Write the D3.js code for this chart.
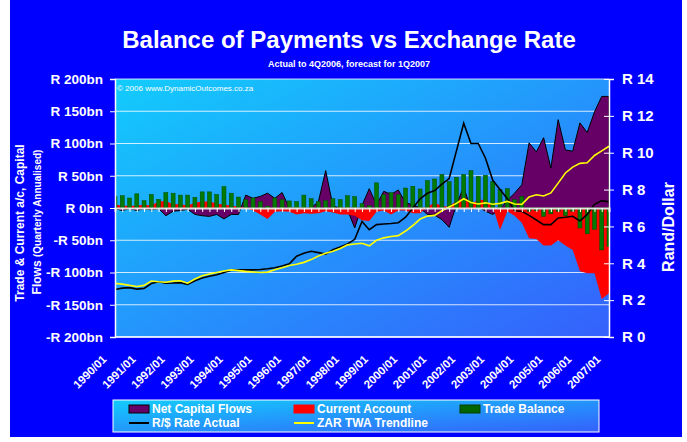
<!DOCTYPE html>
<html>
<head>
<meta charset="utf-8">
<script src="https://cdn.jsdelivr.net/npm/d3@7"></script>
<style>
body { margin: 0; background: #fff; }
text { font-family: Arial, "Liberation Sans", sans-serif; fill: #fff; }
</style>
</head>
<body>
<div id="chart"></div>
<script>
// quarters 1990/01 .. 2007/01
var quarters = [];
for (var yr = 1990; yr <= 2007; yr++) {
    for (var q = 1; q <= 4; q++) {
        if (yr == 2007 && q > 1) break;
        quarters.push(yr + "/0" + q);
    }
}

// R bn, quarterly annualised
var netCapital = [-1,-4,-1,-4,-1,-3,-1,-12,-5,-4, -2,-10,-12,-13,-10,-17,-10,-10,20,15,
    18,23,15,24,0,-3,-3,0,10,58, 3,0,-3,-31,4,30,5,26,21,28,
    8,5,0,-10,-11,-18,-30,5,33,-3, 2,-5,-10,-2,12,23,36,101,87,109,
    62,137,90,88,132,117,149,173,173];
var currentAccount = [5,4,3,4,5,4,10,11,6,6, 4,8,10,10,7,5,4,2,0,-4,
    -10,-17,-6,-5,-6,-10,-8,-9,-8,-5, -7,-10,-10,-12,-19,-20,-6,-4,-10,-4,
    -4,-8,-8,2,8,3,2,12,14,5, 13,12,2,-34,-5,-12,-23,-47,-48,-58,
    -58,-50,-58,-65,-98,-101,-101,-141,-132];
var tradeBalance = [18,19,15.5,22,11.4,21,13.5,24,23,20, 20,16.6,25,25,21,33,23,17,13,15.5,
    10,3,15.5,13,11,10,20,14.5,10,11.4, 14.5,13,19,17.6,6.7,3.6,39,20.7,24,20.7,
    31,33.7,29.5,42.5,45,52,41,47.7,52,58, 49,50.8,41,28.5,30,13,18,-5,-4,-13,
    -9,-5,-12,-5,-31,-40,-33,-65,-60];
// Rand per dollar
var randDollar = [2.58,2.65,2.68,2.6,2.64,2.9,3.0,2.92,2.93,2.95, 2.85,3.05,3.2,3.3,3.38,3.5,3.62,3.64,3.64,3.64,
    3.66,3.7,3.76,3.85,3.97,4.38,4.55,4.65,4.58,4.5, 4.73,4.88,5.05,5.3,6.27,5.82,6.1,6.13,6.16,6.2,
    6.5,7.0,7.5,7.8,7.95,8.3,8.6,10.1,11.6,10.5, 10.5,9.7,8.5,8.0,7.5,6.85,6.82,6.6,6.35,6.1,
    6.1,6.46,6.5,6.55,6.3,6.65,7.2,7.4,7.33];
var zarTwa = [2.91,2.87,2.8,2.74,2.8,3.04,3.0,2.97,3.03,3.05, 2.92,3.15,3.32,3.42,3.5,3.58,3.64,3.6,3.56,3.53,
    3.5,3.52,3.65,3.76,3.88,3.95,4.05,4.2,4.4,4.55, 4.65,4.8,5.0,5.05,5.09,4.95,5.25,5.38,5.45,5.5,
    5.75,6.05,6.4,6.56,6.6,6.85,7.05,7.25,7.5,7.3, 7.22,7.28,7.2,7.25,7.36,7.22,7.2,7.6,7.72,7.65,
    7.82,8.35,8.9,9.22,9.42,9.45,9.85,10.1,10.35];

var bnTicks = [200, 150, 100, 50, 0, -50, -100, -150, -200];
var randTicks = [0, 2, 4, 6, 8, 10, 12, 14];
var yearLabels = quarters.filter(function(d) { return d.slice(-3) == "/01"; });

// set the dimensions and margins of the graph
var W = 687, H = 442;
var margin = {top: 79, right: 78, bottom: 105, left: 115},
    width = W - margin.left - margin.right,
    height = H - margin.top - margin.bottom;

var x = d3.scalePoint().domain(quarters).range([0, width]);
var yL = d3.scaleLinear().domain([-200, 200]).range([height, 0]);
var yR = d3.scaleLinear().domain([0, 14]).range([height, 0]);

var svg = d3.select("#chart").append("svg")
    .attr("width", W)
    .attr("height", H);

var defs = svg.append("defs");
var grad = defs.append("linearGradient")
    .attr("id", "bg").attr("x1", 0).attr("y1", 0).attr("x2", 1).attr("y2", 1);
grad.append("stop").attr("offset", "0%").attr("stop-color", "#12CCFC");
grad.append("stop").attr("offset", "100%").attr("stop-color", "#3560FC");
defs.append("clipPath").attr("id", "clip")
    .append("rect").attr("width", width).attr("height", height);

// outer blue frame
svg.append("rect")
    .attr("x", 10).attr("y", 0)
    .attr("width", 672).attr("height", 437)
    .attr("fill", "#0000FF");

svg.append("text")
    .attr("x", 349).attr("y", 48)
    .attr("text-anchor", "middle")
    .style("font-size", "24px").style("font-weight", "bold")
    .text("Balance of Payments vs Exchange Rate");
svg.append("text")
    .attr("x", 349).attr("y", 67)
    .attr("text-anchor", "middle")
    .style("font-size", "9px").style("font-weight", "bold")
    .text("Actual to 4Q2006, forecast for 1Q2007");

var g = svg.append("g")
    .attr("transform", "translate(" + margin.left + "," + margin.top + ")");

g.append("rect")
    .attr("width", width).attr("height", height)
    .attr("fill", "url(#bg)");

// gridlines
g.selectAll(".grid")
    .data(bnTicks)
    .enter().append("line")
    .attr("x1", 0).attr("x2", width)
    .attr("y1", function(d) { return yL(d); })
    .attr("y2", function(d) { return yL(d); })
    .attr("stroke", "rgba(255,255,255,0.8)")
    .attr("stroke-width", 1.2);

g.append("text")
    .attr("x", 2).attr("y", 12)
    .style("font-size", "8px")
    .text("\u00a9 2006 www.DynamicOutcomes.co.za");

var plot = g.append("g").attr("clip-path", "url(#clip)");

function area(vals) {
    return d3.area()
        .x(function(d, i) { return x(quarters[i]); })
        .y0(yL(0))
        .y1(function(d) { return yL(d); })(vals);
}

plot.append("path")
    .attr("d", area(netCapital))
    .attr("fill", "#660066")
    .attr("stroke", "#000")
    .attr("stroke-width", 1);

plot.append("path")
    .attr("d", area(currentAccount))
    .attr("fill", "#FF0000");

plot.selectAll(".bar")
    .data(tradeBalance)
    .enter().append("rect")
    .attr("class", "bar")
    .attr("x", function(d, i) { return x(quarters[i]) - 2; })
    .attr("width", 4)
    .attr("y", function(d) { return yL(Math.max(0, d)); })
    .attr("height", function(d) { return Math.abs(yL(d) - yL(0)); })
    .attr("fill", "#007A00")
    .attr("stroke", "#004A00")
    .attr("stroke-width", 0.5);

// zero axis with quarter ticks
var zero = g.append("g")
    .attr("transform", "translate(0," + yL(0) + ")")
    .call(d3.axisBottom(x).tickSize(4).tickFormat(""));
zero.select(".domain").attr("stroke", "#E0E0E0").attr("stroke-width", 2);
zero.selectAll(".tick line").attr("stroke", "#fff");

function line(vals) {
    return d3.line()
        .x(function(d, i) { return x(quarters[i]); })
        .y(function(d) { return yR(d); })(vals);
}

plot.append("path")
    .attr("d", line(randDollar))
    .attr("fill", "none")
    .attr("stroke", "#000")
    .attr("stroke-width", 1.6);

plot.append("path")
    .attr("d", line(zarTwa))
    .attr("fill", "none")
    .attr("stroke", "#FFFF00")
    .attr("stroke-width", 1.6);

// left axis
var left = g.append("g")
    .call(d3.axisLeft(yL).tickValues(bnTicks).tickSize(5).tickPadding(7)
        .tickFormat(function(d) { return (d < 0 ? "-R " + (-d) : "R " + d) + "bn"; }));
left.select(".domain").attr("stroke", "#fff").attr("stroke-width", 1.5);
left.selectAll(".tick line").attr("stroke", "#fff");
left.selectAll("text")
    .style("font-size", "13.5px").style("font-weight", "bold")
    .attr("fill", "#fff");

// right axis
var right = g.append("g")
    .attr("transform", "translate(" + width + ",0)")
    .call(d3.axisRight(yR).tickValues(randTicks).tickSize(5).tickPadding(8)
        .tickFormat(function(d) { return "R " + d; }));
right.select(".domain").attr("stroke", "#fff").attr("stroke-width", 1.5);
right.selectAll(".tick line").attr("x1", -5).attr("stroke", "#fff");
right.selectAll("text")
    .style("font-size", "15px").style("font-weight", "bold")
    .attr("fill", "#fff");

// bottom frame line
g.append("line")
    .attr("x1", 0).attr("x2", width)
    .attr("y1", height).attr("y2", height)
    .attr("stroke", "#fff").attr("stroke-width", 1.5);

// year labels
var bottom = g.append("g")
    .attr("transform", "translate(0," + height + ")")
    .call(d3.axisBottom(x).tickValues(yearLabels).tickSize(0));
bottom.select(".domain").remove();
bottom.selectAll("text")
    .attr("x", 0).attr("y", 0).attr("dy", "0.35em")
    .attr("text-anchor", "end")
    .attr("transform", "translate(-11,20) rotate(-45)")
    .style("font-size", "11.5px").style("font-weight", "bold")
    .attr("fill", "#fff");

// axis titles
var lt = svg.append("g").attr("transform", "translate(24,223) rotate(-90)");
lt.append("text")
    .attr("text-anchor", "middle")
    .style("font-size", "12px").style("font-weight", "bold")
    .text("Trade & Current a/c, Capital");
var lt2 = svg.append("text")
    .attr("transform", "translate(41,222) rotate(-90)")
    .attr("text-anchor", "middle")
    .style("font-weight", "bold");
lt2.append("tspan").style("font-size", "12px").text("Flows ");
lt2.append("tspan").style("font-size", "10px").text("(Quarterly Annualised)");

svg.append("text")
    .attr("transform", "translate(674,227) rotate(-90)")
    .attr("text-anchor", "middle")
    .style("font-size", "16px").style("font-weight", "bold")
    .text("Rand/Dollar");

// legend
var leg = svg.append("g");
leg.append("rect")
    .attr("x", 113).attr("y", 400)
    .attr("width", 486).attr("height", 32)
    .attr("fill", "url(#bg)")
    .attr("stroke", "#fff").attr("stroke-width", 1);

var legItems = [
    {name: "Net Capital Flows", type: "box", fill: "#660066", stroke: "#000", lx: 129, row: 0},
    {name: "Current Account", type: "box", fill: "#FF0000", stroke: "#FF0000", lx: 294, row: 0},
    {name: "Trade Balance", type: "box", fill: "#006400", stroke: "#004000", lx: 460, row: 0},
    {name: "R/$ Rate Actual", type: "line", stroke: "#000", lx: 129, row: 1},
    {name: "ZAR TWA Trendline", type: "line", stroke: "#FFFF00", lx: 294, row: 1}
];
legItems.forEach(function(d) {
    var cy = 409 + d.row * 14;
    if (d.type == "box") {
        leg.append("rect")
            .attr("x", d.lx).attr("y", cy - 4)
            .attr("width", 20).attr("height", 8)
            .attr("fill", d.fill).attr("stroke", d.stroke).attr("stroke-width", 1);
    } else {
        leg.append("line")
            .attr("x1", d.lx).attr("x2", d.lx + 20)
            .attr("y1", cy).attr("y2", cy)
            .attr("stroke", d.stroke).attr("stroke-width", 2);
    }
    leg.append("text")
        .attr("x", d.lx + 23).attr("y", cy + 4)
        .style("font-size", "12px").style("font-weight", "bold")
        .text(d.name);
});
</script>
</body>
</html>
